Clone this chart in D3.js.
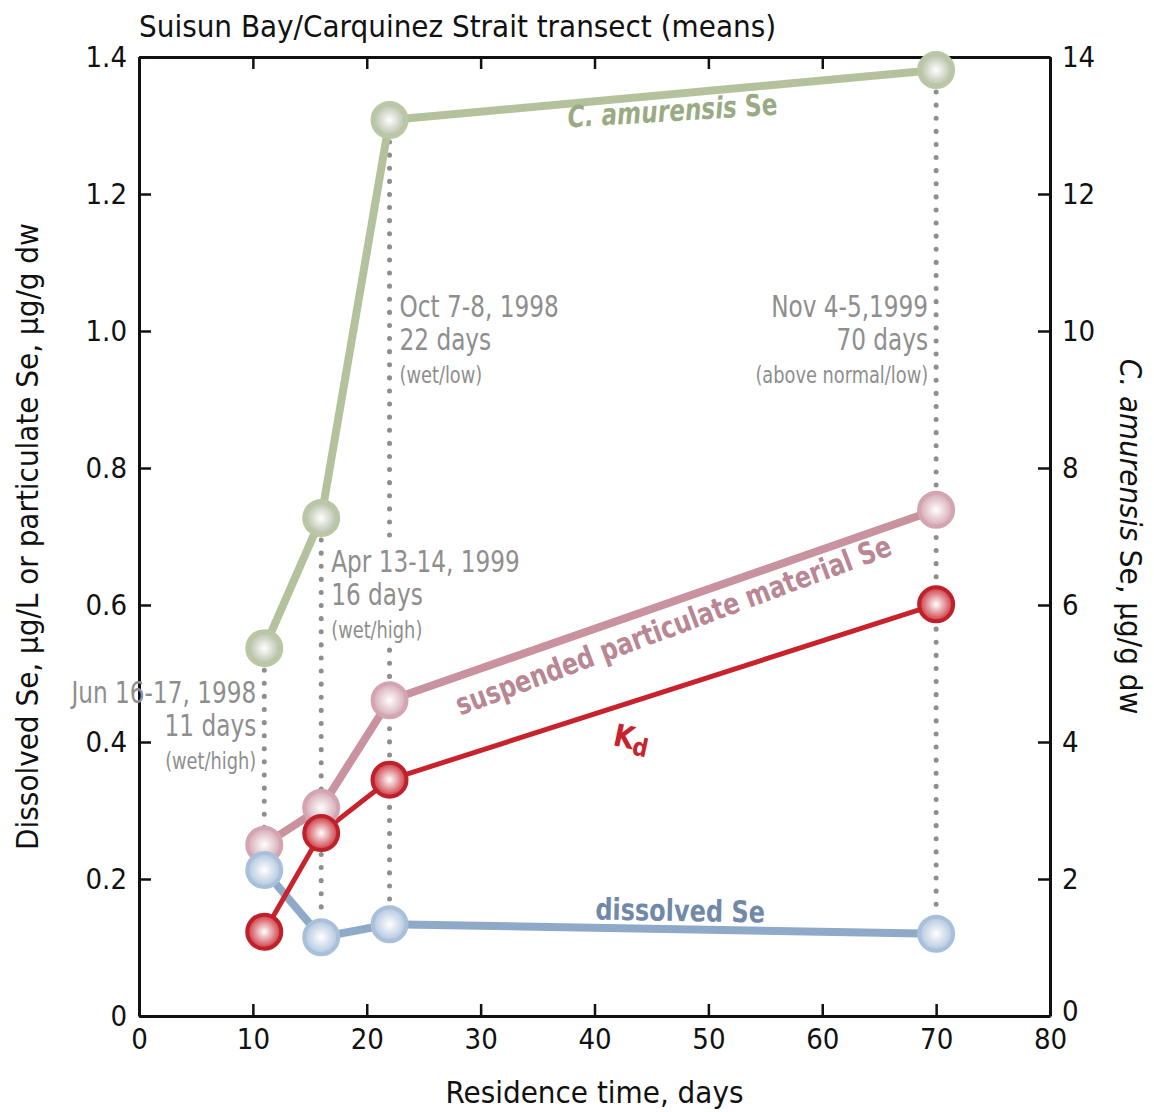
<!DOCTYPE html>
<meta charset="utf-8">
<head>
<title>Suisun Bay/Carquinez Strait transect</title>
<script src="https://cdn.jsdelivr.net/npm/d3@7"></script>
<style>
body { margin: 0; background: #fff; }
svg text { font-family: "DejaVu Sans Condensed", "Liberation Sans Narrow", "Roboto", sans-serif; }
.tick text { font-size: 29px; fill: #111; }
.note { fill: #8e8e8e; }
</style>
</head>
<body>
<script>
// Data
const days = [11, 16, 22, 70];
const clamSe = [5.37, 7.27, 13.08, 13.81];        // right axis, ug/g dw
const particulateSe = [0.25, 0.304, 0.461, 0.739];
const kd = [0.123, 0.267, 0.345, 0.601];
const dissolvedSe = [0.213, 0.115, 0.134, 0.12];
const xTicks = [0, 10, 20, 30, 40, 50, 60, 70, 80];
const yTicksLeft = [0, 0.2, 0.4, 0.6, 0.8, 1.0, 1.2, 1.4];
const yTicksRight = [0, 2, 4, 6, 8, 10, 12, 14];
const notes = [
    {day: 11, side: "left", y: 0.457, lines: ["Jun 16-17, 1998", "11 days", "(wet/high)"]},
    {day: 16, side: "right", y: 0.648, lines: ["Apr 13-14, 1999", "16 days", "(wet/high)"]},
    {day: 22, side: "right", y: 1.02, lines: ["Oct 7-8, 1998", "22 days", "(wet/low)"]},
    {day: 70, side: "left", y: 1.02, lines: ["Nov 4-5,1999", "70 days", "(above normal/low)"]}
];

const width = 1154, height = 1112;
const margin = {top: 57, right: 104, bottom: 96, left: 139};
const narrow = 0.86;   // squeeze to mimic the condensed face

const svg = d3.select("body").append("svg")
    .attr("width", width)
    .attr("height", height);

const x = d3.scaleLinear().domain([0, 80]).range([margin.left, width - margin.right]);
const yL = d3.scaleLinear().domain([0, 1.4]).range([height - margin.bottom, margin.top]);
const yR = d3.scaleLinear().domain([0, 14]).range([height - margin.bottom, margin.top]);

// gradients for the shaded markers
const defs = svg.append("defs");
function grad(id, edge) {
    const g = defs.append("radialGradient").attr("id", id)
        .attr("cx", "50%").attr("cy", "50%").attr("r", "55%");
    g.append("stop").attr("offset", "0%").attr("stop-color", "#ffffff");
    g.append("stop").attr("offset", "100%").attr("stop-color", edge);
}
grad("gGreen", "#a9b497");
grad("gPink", "#cf9eab");
grad("gRed", "#c6222c");
grad("gBlue", "#a8bfd9");

// axes with inward ticks
const ax = svg.append("g");
ax.append("g").attr("transform", `translate(0,${height - margin.bottom})`)
    .call(d3.axisBottom(x).tickValues(xTicks).tickSizeInner(-12).tickSizeOuter(0).tickPadding(12));
ax.append("g").attr("transform", `translate(0,${margin.top})`)
    .call(d3.axisTop(x).tickValues(xTicks).tickSizeInner(-12).tickSizeOuter(0).tickFormat(""));
ax.append("g").attr("transform", `translate(${margin.left},0)`)
    .call(d3.axisLeft(yL).tickValues(yTicksLeft).tickSizeInner(-12).tickSizeOuter(0).tickPadding(12)
        .tickFormat(d => d === 0 ? "0" : d3.format(".1f")(d)));
const rAx = ax.append("g").attr("transform", `translate(${width - margin.right},0)`)
    .call(d3.axisRight(yR).tickValues(yTicksRight).tickSizeInner(-12).tickSizeOuter(0).tickPadding(12));
// lift the right-hand zero a touch so it clears the "80"
rAx.selectAll(".tick").filter(d => d === 0).select("text").attr("y", -5);
ax.selectAll(".domain").attr("stroke", "#111").attr("stroke-width", 3);
ax.selectAll(".tick line").attr("stroke", "#111").attr("stroke-width", 2.5);

const dropLayer = svg.append("g");

// series
const series = [
    {vals: particulateSe, y: yL, color: "#c9929f", w: 8, fill: "url(#gPink)", stroke: "#d4a5b1"},
    {vals: dissolvedSe, y: yL, color: "#8fa9c8", w: 8, fill: "url(#gBlue)", stroke: "#a9c0da"},
    {vals: kd, y: yL, color: "#c8232c", w: 5, fill: "url(#gRed)", stroke: "#c0202a"},
    {vals: clamSe, y: yR, color: "#b3c29d", w: 8, fill: "url(#gGreen)", stroke: "#b9c7a4"}
];
series.forEach(s => {
    const line = d3.line().x((d, i) => x(days[i])).y(d => s.y(d));
    svg.append("path").datum(s.vals)
        .attr("d", line).attr("fill", "none")
        .attr("stroke", s.color).attr("stroke-width", s.w);
});
series.forEach(s => {
    svg.append("g").selectAll("circle").data(s.vals).join("circle")
        .attr("cx", (d, i) => x(days[i])).attr("cy", d => s.y(d))
        .attr("r", 17)
        .attr("fill", s.fill).attr("stroke", s.stroke).attr("stroke-width", 4);
});

// date notes
const noteBoxes = [];
notes.forEach(n => {
    const anchor = n.side === "left" ? "end" : "start";
    const tx = n.side === "left" ? x(n.day) - 8 : x(n.day) + 10;
    const ty = yL(n.y);
    const t = svg.append("text").attr("class", "note").attr("text-anchor", anchor)
        .attr("transform", `translate(${tx},${ty}) scale(${narrow},1)`);
    n.lines.forEach((l, k) => {
        t.append("tspan").attr("x", 0).attr("dy", k === 0 ? 0 : 33)
            .style("font-size", k === 2 ? "23px" : "30px").text(l);
    });
    // rough extent of the note block (text metrics are not relied on)
    const w = d3.max(n.lines, l => l.length) * 30 * 0.55 * narrow;
    noteBoxes.push({
        left: n.side === "left" ? tx - w : tx,
        right: n.side === "left" ? tx : tx + w,
        top: ty - 24, bottom: ty + 2 * 33 + 6
    });
});

// dotted drop lines, broken where they would run through a note
days.forEach((d, i) => {
    const xp = x(d);
    let segs = [[yR(clamSe[i]) + 22, yL(dissolvedSe[i]) - 18]];
    noteBoxes.forEach(b => {
        if (xp < b.left - 4 || xp > b.right + 4) return;
        const g0 = b.top - 4, g1 = b.bottom + 6;
        segs = segs.flatMap(([a, c]) => {
            if (c < g0 || a > g1) return [[a, c]];
            const out = [];
            if (a < g0) out.push([a, g0]);
            if (c > g1) out.push([g1, c]);
            return out;
        });
    });
    segs.forEach(([a, c]) => {
        dropLayer.append("line")
            .attr("x1", xp).attr("x2", xp).attr("y1", a).attr("y2", c)
            .attr("stroke", "#8e8e8e").attr("stroke-width", 5)
            .attr("stroke-linecap", "round")
            .attr("stroke-dasharray", "0.1,13");
    });
});

// series labels
const cl = svg.append("text").attr("transform", `translate(673,121) rotate(-3.5) scale(${narrow},1)`)
    .attr("text-anchor", "middle").attr("fill", "#9aab84")
    .style("font-size", "30px").style("font-weight", "bold");
cl.append("tspan").style("font-style", "italic").text("C. amurensis ");
cl.append("tspan").text("Se");

svg.append("text").attr("transform", `translate(677,635) rotate(-20.4) scale(${narrow + 0.02},1)`)
    .attr("text-anchor", "middle").attr("fill", "#b98694")
    .style("font-size", "30px").style("font-weight", "bold")
    .text("suspended particulate material Se");

const kdl = svg.append("text").attr("transform", "translate(612,745) rotate(12) scale(0.95,1)")
    .attr("fill", "#c8232c").style("font-size", "31px").style("font-weight", "bold");
kdl.append("tspan").text("K");
kdl.append("tspan").attr("dy", 5).style("font-size", "25px").text("d");

svg.append("text").attr("transform", `translate(680,921) rotate(1) scale(${narrow + 0.03},1)`)
    .attr("text-anchor", "middle").attr("fill", "#7189a9")
    .style("font-size", "30px").style("font-weight", "bold")
    .text("dissolved Se");

// titles
svg.append("text").attr("x", 139).attr("y", 37)
    .style("font-size", "31px").attr("fill", "#111")
    .text("Suisun Bay/Carquinez Strait transect (means)");
svg.append("text").attr("x", (margin.left + width - margin.right) / 2).attr("y", 1103)
    .attr("text-anchor", "middle").style("font-size", "31px").attr("fill", "#111")
    .text("Residence time, days");
svg.append("text").attr("transform", `translate(38,${(margin.top + height - margin.bottom) / 2}) rotate(-90)`)
    .attr("text-anchor", "middle").style("font-size", "31px").attr("fill", "#111")
    .text("Dissolved Se, µg/L or particulate Se, µg/g dw");
const rl = svg.append("text").attr("transform", `translate(1120,${(margin.top + height - margin.bottom) / 2}) rotate(90)`)
    .attr("text-anchor", "middle").style("font-size", "31px").attr("fill", "#111");
rl.append("tspan").style("font-style", "italic").text("C. amurensis");
rl.append("tspan").text(" Se, µg/g dw");
</script>
</body>
</html>
